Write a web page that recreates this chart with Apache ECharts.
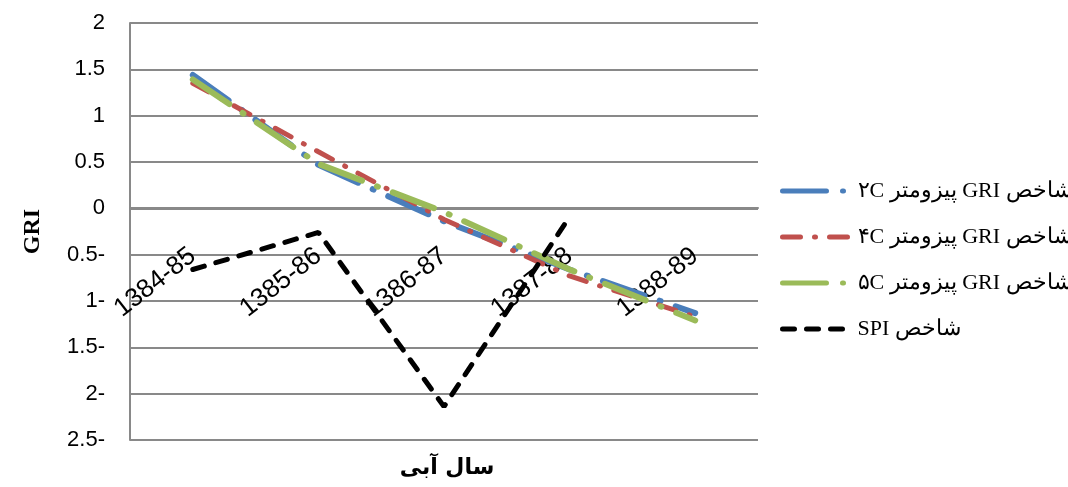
<!DOCTYPE html>
<html>
<head>
<meta charset="utf-8">
<script src="https://cdn.jsdelivr.net/npm/echarts@6/dist/echarts.min.js"></script>
<style>html,body{margin:0;padding:0;background:#fff}#c{width:1068px;height:487px}</style>
</head>
<body>
<div id="c"></div>
<script>
const categories = ['1384-85', '1385-86', '1386-87', '1387-88', '1388-89'];
const gri2C = [1.44, 0.47, -0.14, -0.66, -1.13];
const gri4C = [1.35, 0.61, -0.12, -0.73, -1.17];
const gri5C = [1.39, 0.48, -0.04, -0.66, -1.21];
const spi = [-0.66, -0.26, -2.14, -0.09, null];
const seriesNames = ['۲C پیزومتر GRI شاخص', '۴C پیزومتر GRI شاخص', '۵C پیزومتر GRI شاخص', 'SPI شاخص'];
const yAxisTitle = 'GRI';
const xAxisTitle = 'سال آبی';

const chart = echarts.init(document.getElementById('c'), null, {renderer: 'canvas'});
const grey = '#898989';
chart.setOption({
  animation: false,
  backgroundColor: '#fff',
  grid: {left: 130, right: 310, top: 23, bottom: 47, containLabel: false, outerBoundsMode: 'none'},
  xAxis: {
    type: 'category',
    data: categories,
    boundaryGap: true,
    offset: -232,
    axisLine: {show: true, onZero: false, lineStyle: {color: grey, width: 2}},
    axisTick: {show: false},
    axisLabel: {rotate: 38, margin: 45, fontSize: 26, color: '#000', fontFamily: 'Liberation Sans, Arial, sans-serif', interval: 0},
    splitLine: {show: false}
  },
  yAxis: {
    type: 'value',
    min: -2.5, max: 2, interval: 0.5,
    name: yAxisTitle,
    nameLocation: 'middle',
    nameRotate: 90,
    nameGap: 85,
    nameTextStyle: {fontFamily: 'Liberation Serif, Times New Roman, serif', fontWeight: 'bold', fontSize: 24, color: '#000'},
    axisLine: {show: true, onZero: false, lineStyle: {color: grey, width: 2}},
    axisTick: {show: false},
    axisLabel: {
      margin: 25, fontSize: 22, color: '#000', fontFamily: 'Liberation Sans, Arial, sans-serif',
      formatter: v => v < 0 ? (Math.abs(v) + '-') : String(v)
    },
    splitLine: {show: true, lineStyle: {color: grey, width: 2}}
  },
  legend: {
    orient: 'vertical',
    left: 775, top: 174,
    itemWidth: 70, itemHeight: 14,
    itemGap: 22,
    itemStyle: {opacity: 0},
    lineStyle: {width: 5, cap: 'round'},
    textStyle: {fontFamily: 'Liberation Serif, Times New Roman, DejaVu Serif, serif', fontSize: 22, color: '#000', lineHeight: 24},
    data: seriesNames
  },
  graphic: [{
    type: 'text',
    x: 447, y: 468,
    style: {text: xAxisTitle, textAlign: 'center', textVerticalAlign: 'middle', fontSize: 22, fontWeight: 'bold', fontFamily: 'DejaVu Sans, Noto Sans, sans-serif', fill: '#000'}
  }],
  series: [
    {name: seriesNames[0], type: 'line', data: gri2C, symbol: 'none', lineStyle: {color: '#4a7ebb', width: 6, type: [44, 16, 1, 16], cap: 'round'}, itemStyle: {color: '#4a7ebb'}},
    {name: seriesNames[1], type: 'line', data: gri4C, symbol: 'none', lineStyle: {color: '#c0504d', width: 5, type: [18, 14, 1, 14], cap: 'round'}, itemStyle: {color: '#c0504d'}},
    {name: seriesNames[2], type: 'line', data: gri5C, symbol: 'none', lineStyle: {color: '#9bbb59', width: 6, type: [44, 16, 1, 16], cap: 'round'}, itemStyle: {color: '#9bbb59'}},
    {name: seriesNames[3], type: 'line', data: spi, symbol: 'none', lineStyle: {color: '#000', width: 5, type: [12, 12], cap: 'round'}, itemStyle: {color: '#000'}}
  ]
});
</script>
</body>
</html>
